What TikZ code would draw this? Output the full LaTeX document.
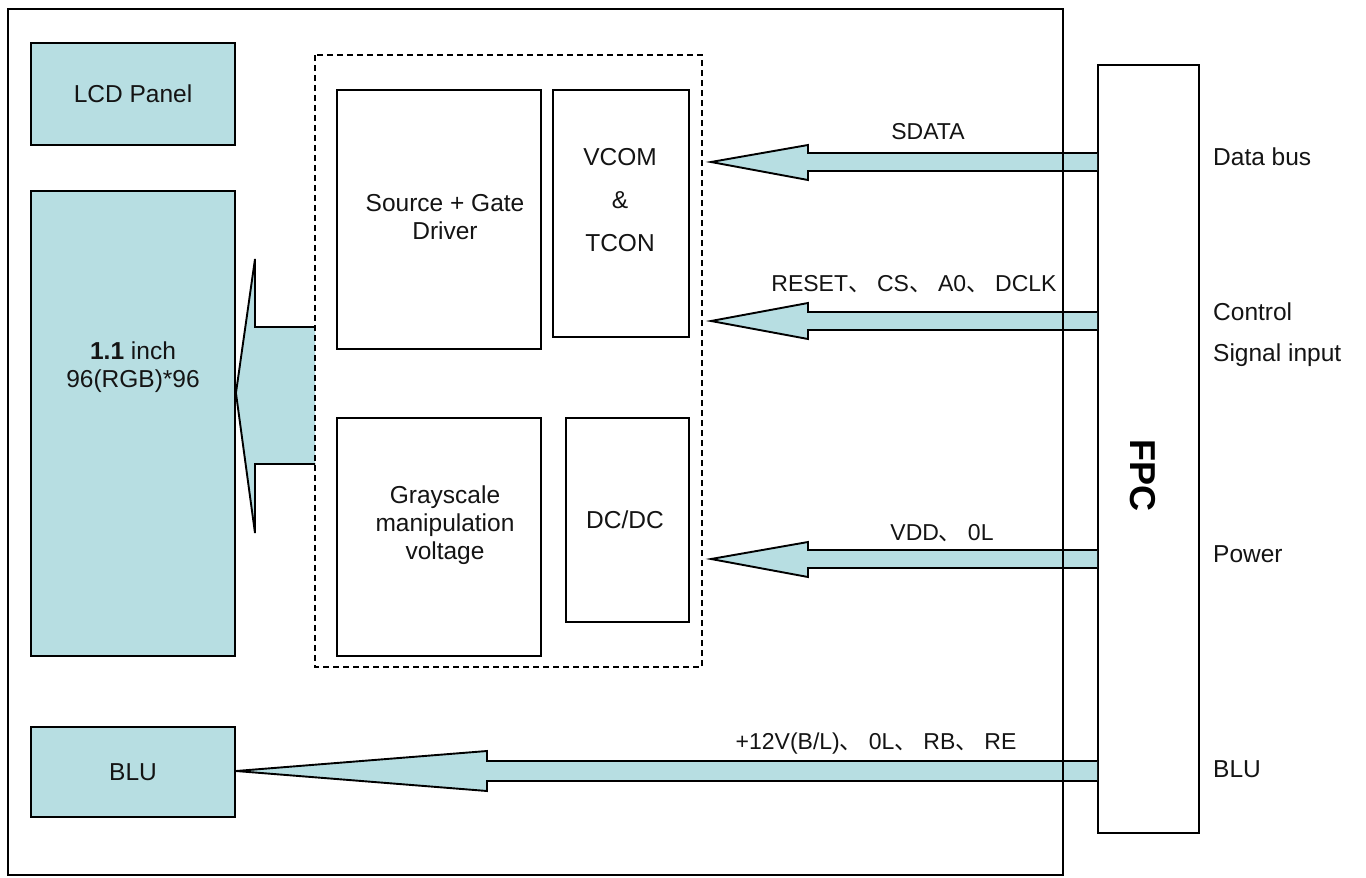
\documentclass[tikz,border=0pt]{standalone}
\usepackage{fontspec}
\setmainfont{Liberation Sans}
\newfontfamily\cjk{Noto Sans CJK SC}
\usetikzlibrary{calc}
\definecolor{tealfill}{RGB}{183,222,226}
\definecolor{ink}{RGB}{20,20,20}
\newcommand\dn{{\cjk 、}\hspace{6pt}}
\begin{document}
\begin{tikzpicture}[x=1pt,y=-1pt,
  box/.style={draw=black, line width=1.9pt, fill=tealfill, inner sep=0pt, text=ink, font=\fontsize{24.5}{28}\selectfont, align=center},
  wbox/.style={draw=black, line width=1.9pt, fill=white, inner sep=0pt},
  dline/.style={draw=black, line width=1.6pt, dash pattern=on 6pt off 4pt},
  txt/.style={text=ink, font=\fontsize{24.5}{28}\selectfont, align=center, inner sep=0pt},
  lbl/.style={text=ink, font=\fontsize{23}{26}\selectfont, inner sep=0pt},
  fat/.style={fill=tealfill, draw=black, line width=1.9pt, line join=miter},
]
\useasboundingbox (0,0) rectangle (1366,878);
\fill[white] (0,0) rectangle (1366,878);

% left column
\node[box, minimum width=204, minimum height=102] (lcd) at (133,94) {LCD Panel};
\node[box, minimum width=204, minimum height=465] (panel) at (133,423.5) {};
\node[txt] (paneltxt) at (133,367) {\textbf{1.1} inch\\96(RGB)*96};
\node[box, minimum width=204, minimum height=90] (blu) at (133,772) {BLU};

% inner blocks
\node[inner sep=0pt, outer sep=0pt, minimum width=387, minimum height=612] (dash) at (508.5,361) {};
\node[wbox, minimum width=204, minimum height=259] (src) at (439,219.5) {};
\node[txt] (srctxt) at (445,217) {Source + Gate\\Driver};
\node[wbox, minimum width=136, minimum height=247] (vcom) at (621,213.5) {};
\node[txt, font=\fontsize{24.5}{43}\selectfont] (vcomtxt) at (620,200) {VCOM\\\&\\TCON};
\node[wbox, minimum width=204, minimum height=238] (gray) at (439,537) {};
\node[txt] (graytxt) at (445,525) {Grayscale\\manipulation\\voltage};
\node[wbox, minimum width=123, minimum height=204] (dcdc) at (627.5,520) {};
\node[txt] (dcdctxt) at (625,520) {DC/DC};

% FPC
\node[wbox, minimum width=101, minimum height=768] (fpc) at (1148.5,449) {};
\node[text=black, font=\fontsize{36}{40}\selectfont\bfseries, rotate=-90, inner sep=0pt] (fpctxt) at (1143,475) {FPC};

% big arrow to panel
\filldraw[fat] (dash.west |- 0,327) -- (255,327) -- (255,259) -- (panel.east |- 0,393) -- (255,533) -- (255,464) -- (dash.west |- 0,464);
\draw[dline] (dash.north west) rectangle (dash.south east);

% bus arrows
\filldraw[fat] (fpc.west |- 0,153) -- (808,153) -- (808,145) -- (711,162) -- (808,180) -- (808,171) -- (fpc.west |- 0,171);
\filldraw[fat] (fpc.west |- 0,312) -- (808,312) -- (808,303) -- (711,321) -- (808,339) -- (808,330) -- (fpc.west |- 0,330);
\filldraw[fat] (fpc.west |- 0,550) -- (808,550) -- (808,542) -- (711,559) -- (808,577) -- (808,568) -- (fpc.west |- 0,568);
\filldraw[fat] (fpc.west |- 0,761) -- (487,761) -- (487,751) -- (blu.east |- 0,771) -- (487,791) -- (487,781) -- (fpc.west |- 0,781);

% arrow labels
\node[lbl] (l1) at (928,132) {SDATA};
\node[lbl] (l2) at (914,284) {RESET\dn CS\dn A0\dn DCLK};
\node[lbl] (l3) at (942,533) {VDD\dn 0L};
\node[lbl] (l4) at (876,744) {+12V(B/L)\dn 0L\dn RB\dn RE};

% right labels
\node[txt, anchor=west] (r1) at (1213,157) {Data bus};
\node[txt, anchor=west, align=left, font=\fontsize{24.5}{41}\selectfont] (r2) at (1213,335) {Control\\Signal input};
\node[txt, anchor=west] (r3) at (1213,554) {Power};
\node[txt, anchor=west] (r4) at (1213,769) {BLU};

% outer frame
\node[draw=black, line width=1.9pt, minimum width=1055, minimum height=866, inner sep=0pt] (frame) at (535.5,442) {};
\end{tikzpicture}
\end{document}
